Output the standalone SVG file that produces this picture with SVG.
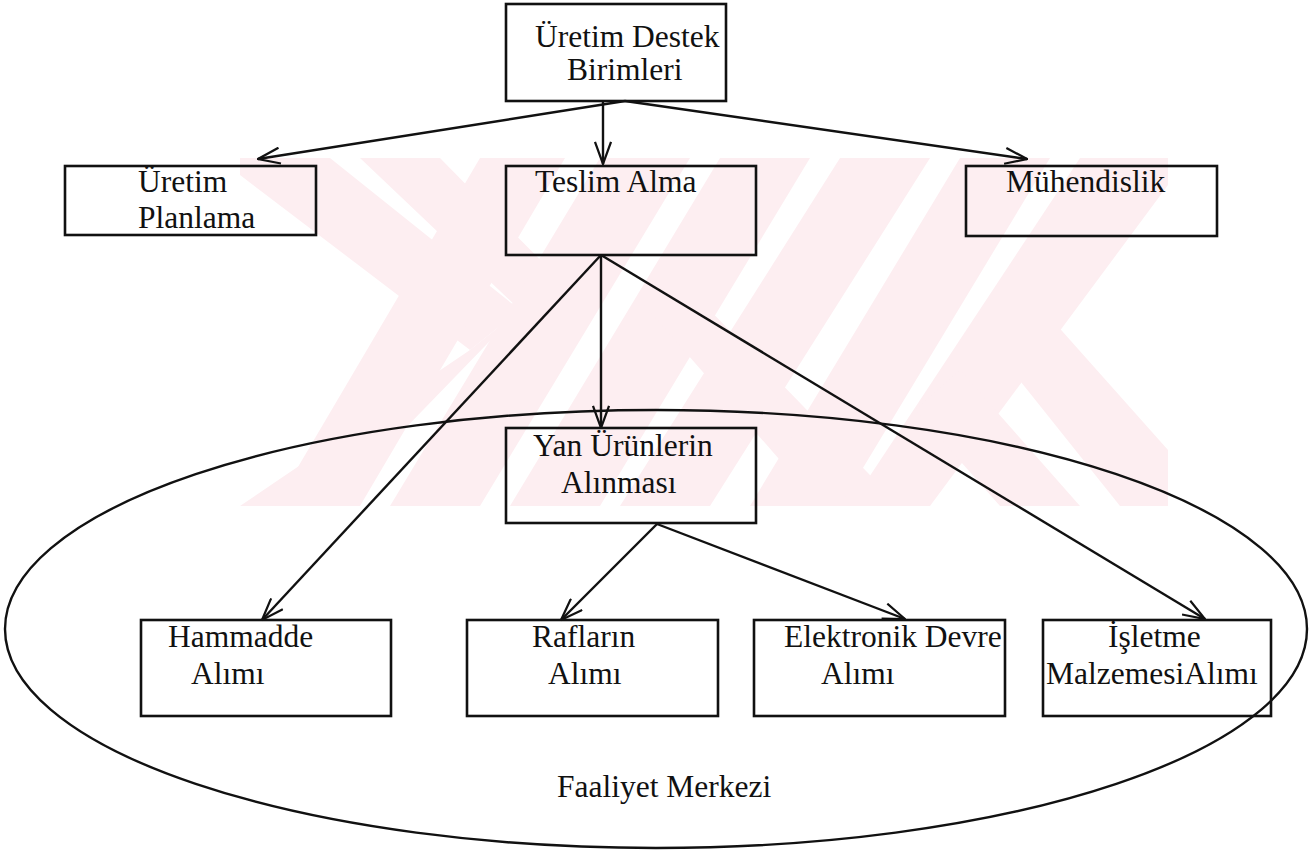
<svg xmlns="http://www.w3.org/2000/svg" width="1312" height="850" viewBox="0 0 1312 850">
  <style>
    .box { fill: none; stroke: #111; stroke-width: 2.6; }
    .lbl { font-family: "Liberation Serif", "Times New Roman", serif; font-size: 31.5px; fill: #111; }
    .edge { fill: none; stroke: #111; stroke-width: 2.4; }
    .wm { fill: #fdeef1; }
  </style>
  <defs>
    <marker id="arr" viewBox="0 0 24 18" refX="23" refY="9" markerWidth="24" markerHeight="18" orient="auto" markerUnits="userSpaceOnUse">
      <path d="M1,1 L23,9 L1,17" fill="none" stroke="#111" stroke-width="2.2"/>
    </marker>
    <clipPath id="wmclip">
      <rect x="228" y="158" width="940" height="348"/>
    </clipPath>
  </defs>

  <rect width="1312" height="850" fill="#fff"/>

  <!-- faint background emblem -->
  <g id="emblem" clip-path="url(#wmclip)">
    <polygon class="wm" points="240,158 330,158 520,310 470,350 240,175"/>
    <polygon class="wm" points="470,350 520,310 330,506 240,506"/>
    <polygon class="wm" points="360,158 440,158 560,280 520,310"/>
    <polygon class="wm" points="480,158 565,158 360,506 275,506"/>
    <polygon class="wm" points="600,158 690,158 480,506 390,506"/>
    <polygon class="wm" points="720,158 810,158 600,506 510,506"/>
    <polygon class="wm" points="640,300 700,300 900,506 820,506"/>
    <polygon class="wm" points="840,158 930,158 710,506 620,506"/>
    <polygon class="wm" points="960,158 1050,158 840,506 750,506"/>
    <polygon class="wm" points="1080,158 1168,158 1168,185 930,506 850,506"/>
    <polygon class="wm" points="985,337 1030,295 1168,450 1168,506 1120,506"/>
    <polygon class="wm" points="915,410 960,370 1080,506 1000,506"/>
  </g>

  <!-- activity centre outline -->
  <ellipse id="faaliyet-merkezi" cx="656" cy="629" rx="651" ry="219" fill="none" stroke="#111" stroke-width="2.4"/>
  <text class="lbl" x="557" y="797">Faaliyet Merkezi</text>

  <g id="connectors">
    <line class="edge" x1="625" y1="101" x2="258" y2="159" marker-end="url(#arr)"/>
    <line class="edge" x1="603" y1="101" x2="603" y2="164" marker-end="url(#arr)"/>
    <line class="edge" x1="625" y1="101" x2="1027" y2="159" marker-end="url(#arr)"/>
    <line class="edge" x1="601" y1="255" x2="262" y2="620" marker-end="url(#arr)"/>
    <line class="edge" x1="601" y1="255" x2="601" y2="428" marker-end="url(#arr)"/>
    <line class="edge" x1="601" y1="255" x2="1205" y2="619" marker-end="url(#arr)"/>
    <line class="edge" x1="657" y1="524" x2="561" y2="620" marker-end="url(#arr)"/>
    <line class="edge" x1="657" y1="524" x2="905" y2="619" marker-end="url(#arr)"/>
  </g>

  <g id="uretim-destek-birimleri">
    <rect class="box" x="506" y="4" width="220" height="97"/>
    <text class="lbl" x="535" y="47">Üretim Destek</text>
    <text class="lbl" x="567" y="80">Birimleri</text>
  </g>

  <g id="uretim-planlama">
    <rect class="box" x="65" y="166" width="251" height="69"/>
    <text class="lbl" x="138" y="192">Üretim</text>
    <text class="lbl" x="138" y="228">Planlama</text>
  </g>

  <g id="teslim-alma">
    <rect class="box" x="506" y="166" width="250" height="89"/>
    <text class="lbl" x="535" y="192">Teslim Alma</text>
  </g>

  <g id="muhendislik">
    <rect class="box" x="966" y="166" width="251" height="70"/>
    <text class="lbl" x="1006" y="192">Mühendislik</text>
  </g>

  <g id="yan-urunlerin-alinmasi">
    <rect class="box" x="506" y="428" width="250" height="95"/>
    <text class="lbl" x="533" y="456">Yan Ürünlerin</text>
    <text class="lbl" x="561" y="493">Alınması</text>
  </g>

  <g id="hammadde-alimi">
    <rect class="box" x="141" y="620" width="250" height="96"/>
    <text class="lbl" x="168" y="647">Hammadde</text>
    <text class="lbl" x="191" y="684">Alımı</text>
  </g>

  <g id="raflarin-alimi">
    <rect class="box" x="467" y="620" width="251" height="96"/>
    <text class="lbl" x="532" y="647">Rafların</text>
    <text class="lbl" x="548" y="684">Alımı</text>
  </g>

  <g id="elektronik-devre-alimi">
    <rect class="box" x="754" y="620" width="251" height="96"/>
    <text class="lbl" x="784" y="647">Elektronik Devre</text>
    <text class="lbl" x="821" y="684">Alımı</text>
  </g>

  <g id="isletme-malzemesi-alimi">
    <rect class="box" x="1043" y="620" width="228" height="96"/>
    <text class="lbl" x="1108" y="647">İşletme</text>
    <text class="lbl" x="1046" y="684">MalzemesiAlımı</text>
  </g>
</svg>
